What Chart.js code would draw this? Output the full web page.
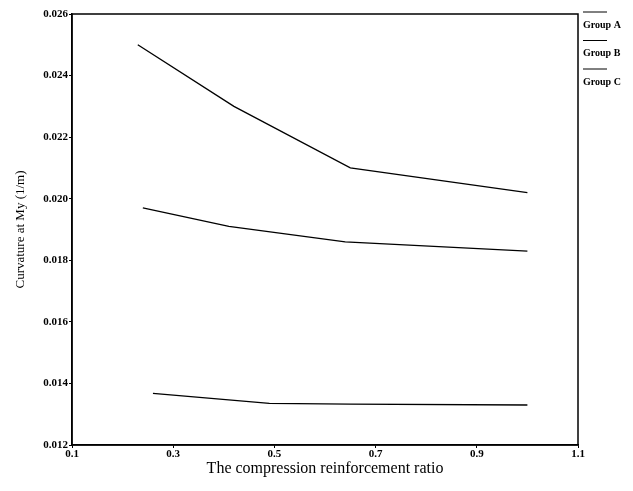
<!DOCTYPE html>
<html><head><meta charset="utf-8">
<script src="https://cdn.jsdelivr.net/npm/chart.js@4"></script>
<style>html,body{margin:0;padding:0;background:#fff}#wrap{width:633px;height:491px}</style>
</head><body><div id="wrap"><canvas id="c" width="633" height="491"></canvas></div>
<script>
const seriesNames = ["Group A", "Group B", "Group C"];
const groupAx = [0.23, 0.42, 0.65, 1.0];
const groupAy = [0.0250, 0.0230, 0.0210, 0.0202];
const groupBx = [0.24, 0.41, 0.64, 1.0];
const groupBy = [0.0197, 0.0191, 0.0186, 0.0183];
const groupCx = [0.26, 0.49, 0.65, 1.0];
const groupCy = [0.01368, 0.01335, 0.01333, 0.0133];
const xTicks = [0.1, 0.3, 0.5, 0.7, 0.9, 1.1];
const yTicks = [0.012, 0.014, 0.016, 0.018, 0.020, 0.022, 0.024, 0.026];

const pts = (xs, ys) => xs.map((x, i) => ({x: x, y: ys[i]}));
const ds = [[groupAx, groupAy], [groupBx, groupBy], [groupCx, groupCy]].map((p, i) => ({
  label: seriesNames[i], data: pts(p[0], p[1]), borderColor: '#000', backgroundColor: '#000',
  borderWidth: 1.3, pointRadius: 0, tension: 0, fill: false
}));

const frame = {
  id: 'frame',
  afterDatasetsDraw(chart) {
    const {ctx, chartArea: a} = chart;
    ctx.save();
    ctx.strokeStyle = '#000'; ctx.lineWidth = 1.5;
    ctx.strokeRect(a.left, a.top, a.right - a.left, a.bottom - a.top);
    // legend: short line above each label
    ctx.font = 'bold 10px "Liberation Serif"';
    ctx.fillStyle = '#000'; ctx.textBaseline = 'middle'; ctx.textAlign = 'left';
    chart.data.datasets.forEach((d, i) => {
      const y0 = 12 + i * 28.5;
      ctx.lineWidth = 1;
      ctx.beginPath(); ctx.moveTo(583, y0); ctx.lineTo(607, y0); ctx.stroke();
      ctx.fillText(d.label, 583, y0 + 13);
    });
    ctx.restore();
  }
};

new Chart(document.getElementById('c'), {
  type: 'line',
  data: {datasets: ds},
  options: {
    responsive: false, animation: false,
    layout: {padding: {top: 14, right: 55, left: 0, bottom: 0}},
    plugins: {legend: {display: false}, tooltip: {enabled: false}},
    scales: {
      x: {
        type: 'linear', min: 0.1, max: 1.1,
        afterBuildTicks: s => { s.ticks = xTicks.map(v => ({value: v})); },
        afterFit: s => { s.height = 46; },
        border: {color: '#000', width: 1.5},
        grid: {drawOnChartArea: false, color: '#000', tickLength: 3},
        ticks: {color: '#000', padding: 0, maxRotation: 0, font: {family: 'Liberation Serif', size: 11, weight: 'bold'},
          callback: v => v.toFixed(1)},
        title: {display: true, text: 'The compression reinforcement ratio', color: '#000',
          font: {family: 'Liberation Serif', size: 16}, padding: {top: 4, bottom: 13}}
      },
      y: {
        type: 'linear', min: 0.012, max: 0.026,
        afterBuildTicks: s => { s.ticks = yTicks.map(v => ({value: v})); },
        afterFit: s => { s.width = 72; },
        border: {color: '#000', width: 1.5},
        grid: {drawOnChartArea: false, color: '#000', tickLength: 3},
        ticks: {color: '#000', padding: 1, font: {family: 'Liberation Serif', size: 11, weight: 'bold'},
          callback: v => v.toFixed(3)},
        title: {display: true, text: 'Curvature at My (1/m)', color: '#000',
          font: {family: 'Liberation Serif', size: 13}, padding: {top: 13, bottom: 4}}
      }
    }
  },
  plugins: [frame]
});
</script></body></html>
